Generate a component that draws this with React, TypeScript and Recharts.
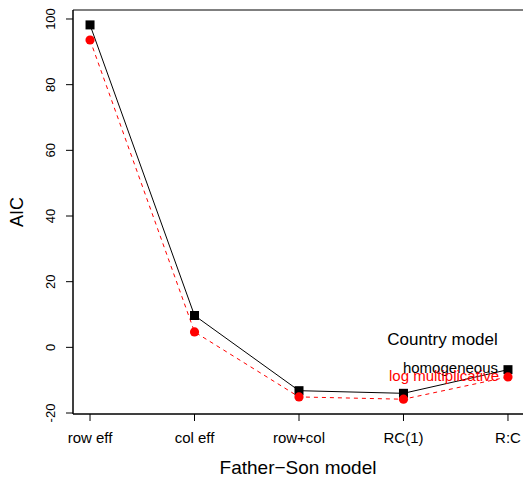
import React from "react";
import { LineChart, Line, XAxis, YAxis, ReferenceArea } from "recharts";

const categories = ["row eff", "col eff", "row+col", "RC(1)", "R:C"];
const homogeneous = [98.2, 9.7, -13.2, -14.0, -6.8];
const logMultiplicative = [93.6, 4.7, -15.1, -15.8, -9.0];
const yTicks = [-20, 0, 20, 40, 60, 80, 100];
const xTicks = [1, 2, 3, 4, 5];

const xDomain: [number, number] = [0.837, 5.163];
const yDomain: [number, number] = [-20.3, 102.74];

const data = categories.map((name, i) => ({
  x: i + 1,
  name,
  homogeneous: homogeneous[i],
  logMult: logMultiplicative[i],
}));

const font = "'Liberation Sans', Arial, Helvetica, sans-serif";

function XTick(props: any) {
  const { x, y, payload } = props;
  return (
    <text x={x} y={y + 22} textAnchor="middle" fontSize={15} fill="#000" fontFamily={font}>
      {categories[payload.value - 1]}
    </text>
  );
}

function YTick(props: any) {
  const { x, y, payload } = props;
  const bx = x - 11;
  return (
    <text
      x={bx}
      y={y}
      transform={`rotate(-90, ${bx}, ${y})`}
      textAnchor="middle"
      fontSize={13}
      fill="#000"
      fontFamily={font}
    >
      {payload.value}
    </text>
  );
}

function SquareDot(props: any) {
  const { cx, cy, index } = props;
  return <rect key={`sq-${index}`} x={cx - 4.5} y={cy - 4.5} width={9} height={9} fill="#000" />;
}

function CircleDot(props: any) {
  const { cx, cy, index } = props;
  return <circle key={`ci-${index}`} cx={cx} cy={cy} r={4.6} fill="#ff0000" />;
}

export default function App() {
  return (
    <div
      style={{
        position: "absolute",
        left: 0,
        top: 0,
        width: 523,
        height: 477,
        overflow: "hidden",
        background: "#fff",
        fontFamily: font,
      }}
    >
      <LineChart width={530} height={477} data={data} margin={{ top: 10, right: 5, left: 0, bottom: 0 }}>
        <ReferenceArea
          x1={xDomain[0]}
          x2={xDomain[1]}
          y1={yDomain[0]}
          y2={yDomain[1]}
          fill="none"
          stroke="#000"
          strokeWidth={1}
          ifOverflow="extendDomain"
        />
        <XAxis
          dataKey="x"
          type="number"
          domain={xDomain}
          ticks={xTicks}
          allowDataOverflow
          height={63}
          tickSize={7}
          tickMargin={0}
          tick={<XTick />}
          axisLine={{ stroke: "#000" }}
          tickLine={{ stroke: "#000" }}
        />
        <YAxis
          type="number"
          domain={yDomain}
          ticks={yTicks}
          allowDataOverflow
          width={73}
          tickSize={7}
          tickMargin={0}
          tick={<YTick />}
          axisLine={{ stroke: "#000" }}
          tickLine={{ stroke: "#000" }}
        />
        <Line
          type="linear"
          dataKey="homogeneous"
          stroke="#000"
          strokeWidth={1}
          dot={SquareDot}
          activeDot={false}
          isAnimationActive={false}
        />
        <Line
          type="linear"
          dataKey="logMult"
          stroke="#ff0000"
          strokeWidth={1}
          strokeDasharray="4 4"
          dot={CircleDot}
          activeDot={false}
          isAnimationActive={false}
        />
      </LineChart>
      <svg
        width={523}
        height={477}
        style={{ position: "absolute", left: 0, top: 0, pointerEvents: "none" }}
        fontFamily={font}
      >
        <text x={23} y={212} transform="rotate(-90, 23, 212)" textAnchor="middle" fontSize={18} fill="#000">
          AIC
        </text>
        <text x={298} y={474} textAnchor="middle" fontSize={19} fill="#000">
          Father−Son model
        </text>
        <text x={442.5} y={345} textAnchor="middle" fontSize={17} fill="#000">
          Country model
        </text>
        <text x={498} y={373} textAnchor="end" fontSize={15} fill="#000">
          homogeneous
        </text>
        <text x={499} y={381} textAnchor="end" fontSize={15} fill="#ff0000">
          log multiplicative
        </text>
      </svg>
    </div>
  );
}
